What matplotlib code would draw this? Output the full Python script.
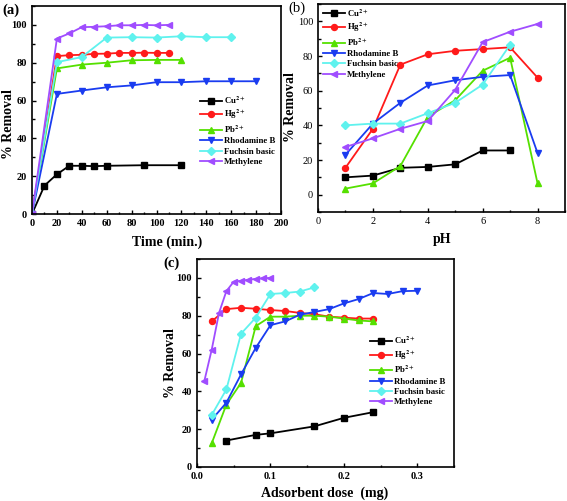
import numpy as np
import matplotlib
matplotlib.use('Agg')
import matplotlib.pyplot as plt
from matplotlib.ticker import MultipleLocator

plt.rcParams['font.family'] = 'Liberation Serif'
plt.rcParams['mathtext.fontset'] = 'stix'

names = ['Cu$^{\\mathbf{2+}}$', 'Hg$^{\\mathbf{2+}}$', 'Pb$^{\\mathbf{2+}}$',
         'Rhodamine B', 'Fuchsin basic', 'Methylene']
colors = ['black', '#ff1a1a', '#55e000', '#1a3cf0', '#5ff2ee', '#a04dff']
markers = ['s', 'o', '^', 'v', 'D', '<']

# (a) removal vs time
t_cu = [0, 10, 20, 30, 40, 50, 60, 90, 120]
r_cu = [0, 15, 21, 25.5, 25.5, 25.3, 25.5, 25.8, 25.8]
t_hg = [0, 20, 30, 40, 50, 60, 70, 80, 90, 100, 110]
r_hg = [0, 83.5, 84, 84.2, 84.7, 84.8, 85.2, 85.2, 85.3, 85.2, 85.2]
t_pb = [0, 20, 40, 60, 80, 100, 120]
r_pb = [0, 77, 79, 80, 81.3, 81.5, 81.5]
t_rh = [0, 20, 40, 60, 80, 100, 120, 140, 160, 180]
r_rh = [0, 63.5, 65.3, 67, 68, 69.7, 69.7, 70.2, 70.2, 70.2]
t_fu = [0, 20, 40, 60, 80, 100, 120, 140, 160]
r_fu = [0, 80.3, 83, 93.3, 93.5, 93.3, 94, 93.5, 93.5]
t_me = [0, 20, 30, 40, 50, 60, 70, 80, 90, 100, 110]
r_me = [0, 92.8, 95.5, 98.8, 99, 99.3, 99.8, 99.8, 100, 99.8, 100]

# (b) removal vs pH
ph_cu = [1, 2, 3, 4, 5, 6, 7]
p_cu = [10, 11, 15.5, 16, 17.5, 25.5, 25.5]
ph_hg = [1, 2, 3, 4, 5, 6, 7, 8]
p_hg = [15.5, 38, 75, 81, 83, 84, 85, 67.5]
ph_pb = [1, 2, 3, 4, 5, 6, 7, 8]
p_pb = [3.5, 6.5, 16.5, 45, 54.5, 71.5, 79, 6.5]
ph_rh = [1, 2, 3, 4, 5, 6, 7, 8]
p_rh = [23, 41, 53, 63, 66, 68, 69, 24]
ph_fu = [1, 2, 3, 4, 5, 6, 7]
p_fu = [40, 41, 41, 47, 53, 63.5, 86.5]
ph_me = [1, 2, 3, 4, 5, 6, 7, 8]
p_me = [27.5, 32.5, 38, 42.5, 60.5, 88, 94, 98.5]

# (c) removal vs adsorbent dose
d_cu = [0.04, 0.08, 0.1, 0.16, 0.2, 0.24]
c_cu = [14, 17, 17.8, 21.5, 26, 29]
d_hg = [0.02, 0.04, 0.06, 0.08, 0.1, 0.12, 0.14, 0.16, 0.18, 0.2, 0.22, 0.24]
c_hg = [77, 83.5, 84.2, 83.7, 83, 82.5, 81.5, 80.8, 79.5, 79, 78.5, 78.5]
d_pb = [0.02, 0.04, 0.06, 0.08, 0.1, 0.12, 0.14, 0.16, 0.18, 0.2, 0.22, 0.24]
c_pb = [12.5, 33, 44.5, 74.5, 79.5, 79.5, 80, 80, 79.5, 78.5, 77.5, 77]
d_rh = [0.02, 0.04, 0.06, 0.08, 0.1, 0.12, 0.14, 0.16, 0.18, 0.2, 0.22, 0.24, 0.26, 0.28, 0.3]
c_rh = [25, 34, 49, 63, 75, 77, 80.5, 82, 83.5, 86.5, 88.8, 92, 91.5, 93, 93.2]
d_fu = [0.02, 0.04, 0.06, 0.08, 0.1, 0.12, 0.14, 0.16]
c_fu = [27.5, 41, 70.5, 79, 91.5, 92, 92.8, 95]
d_me = [0.01, 0.02, 0.03, 0.04, 0.05, 0.06, 0.07, 0.08, 0.09, 0.1]
c_me = [45.5, 62, 81.5, 93, 98, 98.5, 99, 99.5, 99.8, 100]

W, H = 567, 501
fig = plt.figure(figsize=(W / 100, H / 100), dpi=100)


def box(l, t, r, b):
    return [l / W, 1 - b / H, (r - l) / W, (b - t) / H]


def ftext(x, y, s, **kw):
    # place text by pixel coords from the top-left corner
    fig.text(x / W, 1 - y / H, s, ha='center', va='center', **kw)


def style(ax, bold):
    ax.tick_params(which='both', direction='in', labelsize=7.5, width=1)
    ax.tick_params(which='major', length=3)
    ax.tick_params(which='minor', length=1.8)
    for s in ax.spines.values():
        s.set_linewidth(1.2)
    if bold:
        for lab in ax.get_xticklabels() + ax.get_yticklabels():
            lab.set_fontweight('bold')


def draw(ax, data):
    for (x, y), c, m, n in zip(data, colors, markers, names):
        ms = 3.6 if m == 'D' else 4.3
        ax.plot(x, y, color=c, marker=m, ms=ms, lw=1.3, label=n)


def leg(ax, x, y):
    ax.legend(loc='upper left', bbox_to_anchor=(x, y), frameon=False,
              prop={'size': 6.3, 'weight': 'bold'}, handlelength=2.5, labelspacing=0.25,
              handletextpad=0.2, borderaxespad=0, borderpad=0)


# panel a
ax1 = fig.add_axes(box(32, 6, 281, 214))
draw(ax1, [(t_cu, r_cu), (t_hg, r_hg), (t_pb, r_pb), (t_rh, r_rh), (t_fu, r_fu), (t_me, r_me)])
ax1.set_xlim(0, 200)
ax1.set_ylim(0, 110)
ax1.xaxis.set_major_locator(MultipleLocator(20))
ax1.xaxis.set_minor_locator(MultipleLocator(10))
ax1.yaxis.set_major_locator(MultipleLocator(20))
ax1.yaxis.set_minor_locator(MultipleLocator(10))
style(ax1, True)
leg(ax1, 0.675, 0.575)
ftext(167, 242, 'Time (min.)', fontsize=10, fontweight='bold')
ftext(9, 124, '% Removal', fontsize=10, fontweight='bold', rotation=90)
ftext(11, 10, '(a)', fontsize=10.5, fontweight='bold')

# panel b
ax2 = fig.add_axes(box(318, 4, 565, 212))
draw(ax2, [(ph_cu, p_cu), (ph_hg, p_hg), (ph_pb, p_pb), (ph_rh, p_rh), (ph_fu, p_fu), (ph_me, p_me)])
ax2.set_xlim(0, 9)
ax2.set_ylim(-10, 110)
ax2.xaxis.set_major_locator(MultipleLocator(2))
ax2.xaxis.set_minor_locator(MultipleLocator(1))
ax2.yaxis.set_major_locator(MultipleLocator(20))
ax2.yaxis.set_minor_locator(MultipleLocator(10))
style(ax2, False)
leg(ax2, 0.02, 0.985)
ftext(442, 239, 'pH', fontsize=10, fontweight='bold')
ftext(291, 107, '% Removal', fontsize=10, fontweight='bold', rotation=90)
ftext(297, 8, '(b)', fontsize=10.5)

# panel c
ax3 = fig.add_axes(box(197, 259, 454, 467))
draw(ax3, [(d_cu, c_cu), (d_hg, c_hg), (d_pb, c_pb), (d_rh, c_rh), (d_fu, c_fu), (d_me, c_me)])
ax3.set_xlim(0, 0.35)
ax3.set_ylim(0, 110)
ax3.xaxis.set_major_locator(MultipleLocator(0.1))
ax3.xaxis.set_minor_locator(MultipleLocator(0.05))
ax3.yaxis.set_major_locator(MultipleLocator(20))
ax3.yaxis.set_minor_locator(MultipleLocator(10))
style(ax3, True)
leg(ax3, 0.673, 0.635)
ftext(325, 493, 'Adsorbent dose  (mg)', fontsize=10, fontweight='bold')
ftext(170, 363, '% Removal', fontsize=10, fontweight='bold', rotation=90)
ftext(171, 263, '(c)', fontsize=10.5, fontweight='bold')

fig.savefig('out.png', dpi=100)
